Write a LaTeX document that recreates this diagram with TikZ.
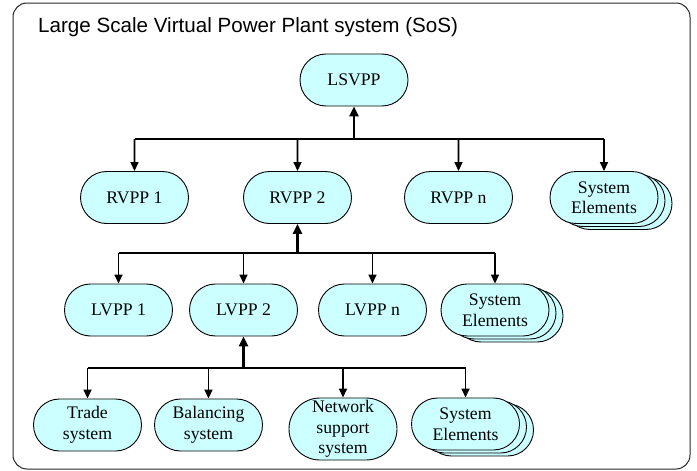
\documentclass[tikz,border=0pt]{standalone}
\usepackage{fontspec}
\setmainfont{Liberation Serif}
\newfontfamily\titlefont{Liberation Sans}
\usetikzlibrary{arrows.meta, shadows, shapes.misc}
\definecolor{unitfill}{RGB}{204,255,255}

\begin{document}
\begin{tikzpicture}[x=1pt, y=-1pt,
  unit/.style={rounded rectangle, draw, line width=0.9pt, fill=unitfill, minimum width=108pt, minimum height=52pt,
    inner sep=0pt, align=center, font=\fontsize{17.7}{20.5}\selectfont},
  stack/.style={unit, double copy shadow={shadow xshift=7pt, shadow yshift=-3pt}},
  bus/.style={line width=1.8pt},
  down/.style={line width=1.6pt, -{Triangle[width=8pt, length=9pt]}},
  up/.style={line width=2.6pt, -{Triangle[width=9pt, length=10pt]}}]
\useasboundingbox (0,0) rectangle (697,471);
\draw[rounded corners=14pt, line width=1pt, draw=black!85] (13,3) rectangle (690,469);
\node[anchor=base west, inner sep=0pt, font=\titlefont\fontsize{20.6}{24}\selectfont] at (38,32) (title) {Large Scale Virtual Power Plant system (SoS)};

\node[unit] at (354,80) (lsvpp) {LSVPP};

\node[unit] at (134.5,197.5) (rvppa) {RVPP 1};
\node[unit] at (297.5,197.5) (rvppb) {RVPP 2};
\node[unit] at (458.5,197.5) (rvppn) {RVPP n};
\node[stack] at (604,197.5) (rvppelem) {System\\Elements};

\node[unit] at (118.5,310) (lvppa) {LVPP 1};
\node[unit] at (243.5,310) (lvppb) {LVPP 2};
\node[unit] at (372.5,310) (lvppn) {LVPP n};
\node[stack] at (495,310) (lvppelem) {System\\Elements};

\node[unit] at (87.5,425) (trade) {Trade\\system};
\node[unit] at (208.5,425) (balancing) {Balancing\\system};
\node[unit, minimum height=62pt] at (343,429) (network) {Network\\support\\system};
\node[stack] at (465.5,424) (lelem) {System\\Elements};

\coordinate (rbus) at (354,139);
\coordinate (lbus) at (297.5,253);
\coordinate (sbus) at (243.5,368);

\draw[bus] (rbus -| rvppa) -- (rbus -| rvppelem);
\foreach \n in {rvppa, rvppb, rvppn, rvppelem}
  \draw[down] (rbus -| \n) -- (\n);
\draw[up] (rbus) -- (lsvpp);

\draw[bus] (lbus -| lvppa) -- (lbus -| lvppelem);
\foreach \n in {lvppa, lvppb, lvppn, lvppelem}
  \draw[down] (lbus -| \n) -- (\n);
\draw[up] (lbus) -- (rvppb);

\draw[bus] (sbus -| trade) -- (sbus -| lelem);
\foreach \n in {trade, balancing, network, lelem}
  \draw[down] (sbus -| \n) -- (\n);
\draw[up] (sbus) -- (lvppb);
\end{tikzpicture}
\end{document}
